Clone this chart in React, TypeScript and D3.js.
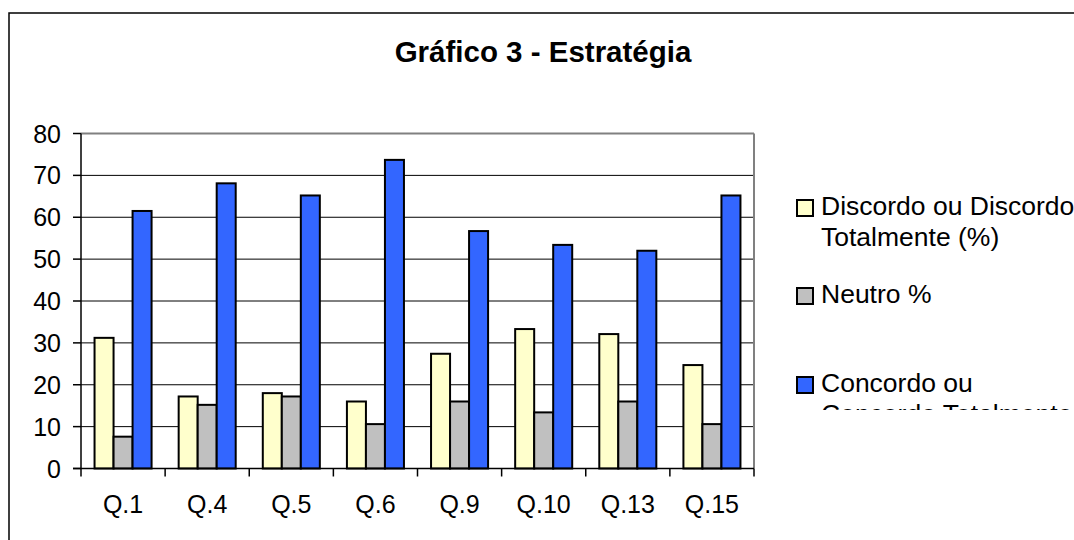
import React from "react";
import * as d3 from "d3";

const categories = ["Q.1", "Q.4", "Q.5", "Q.6", "Q.9", "Q.10", "Q.13", "Q.15"];
const discordo = [31.2, 17.2, 18.0, 16.0, 27.4, 33.3, 32.1, 24.7];
const neutro = [7.6, 15.2, 17.2, 10.6, 16.0, 13.4, 16.0, 10.6];
const concordo = [61.5, 68.1, 65.2, 73.7, 56.7, 53.4, 52.0, 65.2];
const yTicks = [0, 10, 20, 30, 40, 50, 60, 70, 80];
const seriesNames = ["Discordo ou Discordo Totalmente (%)", "Neutro %", "Concordo ou Concordo Totalmente (%)"];
const legendLines = [
  ["Discordo ou Discordo", "Totalmente (%)"],
  ["Neutro %"],
  ["Concordo ou", "Concordo Totalmente (%)"],
];
const seriesColors = ["#FFFFCC", "#C0C0C0", "#3366FF"];
const title = "Gráfico 3 - Estratégia";

const W = 1074;
const H = 540;
const plot = { left: 81, right: 754, top: 133.5, bottom: 468.5 };
const FONT = "'Liberation Sans', Arial, sans-serif";

export default function App() {
  const series = [discordo, neutro, concordo];
  const x0 = d3
    .scaleBand<string>()
    .domain(categories)
    .range([plot.left, plot.right])
    .paddingInner(0.322)
    .paddingOuter(0.161);
  const x1 = d3
    .scaleBand<number>()
    .domain([0, 1, 2])
    .range([0, x0.bandwidth()]);
  const y = d3.scaleLinear().domain([0, 80]).range([plot.bottom, plot.top]);
  const step = (plot.right - plot.left) / categories.length;
  const boundaries = d3.range(categories.length + 1).map((i) => plot.left + i * step);

  const legendY = [215, 303, 392];

  return (
    <svg
      width={W}
      height={H}
      style={{ position: "absolute", left: 0, top: 0, background: "#fff" }}
      fontFamily={FONT}
    >
      <defs>
        <clipPath id="legclip">
          <rect x={780} y={180} width={300} height={230} />
        </clipPath>
      </defs>
      <rect x={0} y={0} width={W} height={H} fill="#fff" />
      {/* outer frame */}
      <rect x={9} y={13} width={W + 20} height={H + 20} fill="none" stroke="#000" strokeWidth={1.5} />

      <text x={543} y={62} textAnchor="middle" fontSize={29.5} fontWeight="bold" fill="#000">
        {title}
      </text>

      {/* gridlines */}
      {yTicks.slice(1).map((t) => (
        <line
          key={"g" + t}
          x1={plot.left}
          x2={plot.right}
          y1={y(t)}
          y2={y(t)}
          stroke={t === 80 ? "#808080" : "#000"}
          strokeWidth={t === 80 ? 2 : 1}
        />
      ))}
      {/* right border */}
      <line x1={plot.right} x2={plot.right} y1={plot.top} y2={plot.bottom} stroke="#808080" strokeWidth={2} />

      {/* bars */}
      {categories.map((c, i) => (
        <g key={c} transform={`translate(${x0(c)},0)`}>
          {series.map((s, j) => (
            <rect
              key={j}
              x={x1(j)!}
              y={y(s[i])}
              width={x1.bandwidth()}
              height={y(0) - y(s[i])}
              fill={seriesColors[j]}
              stroke="#000"
              strokeWidth={2}
            >
              <title>{`${seriesNames[j]} ${c}: ${s[i]}`}</title>
            </rect>
          ))}
        </g>
      ))}

      {/* axes */}
      <line x1={plot.left} x2={plot.left} y1={plot.top} y2={plot.bottom} stroke="#000" strokeWidth={1.5} />
      <line x1={plot.left - 8} x2={plot.right} y1={plot.bottom} y2={plot.bottom} stroke="#000" strokeWidth={1.5} />
      {yTicks.map((t) => (
        <g key={"yt" + t}>
          <line x1={plot.left - 8} x2={plot.left} y1={y(t)} y2={y(t)} stroke="#000" strokeWidth={1.5} />
          <text x={61} y={y(t)} dy="0.36em" textAnchor="end" fontSize={25} fill="#000">
            {t}
          </text>
        </g>
      ))}
      {boundaries.map((bx, i) => (
        <line key={"xt" + i} x1={bx} x2={bx} y1={plot.bottom} y2={plot.bottom + 8} stroke="#000" strokeWidth={1.5} />
      ))}
      {categories.map((c) => (
        <text key={"xl" + c} x={x0(c)! + x0.bandwidth() / 2} y={513} textAnchor="middle" fontSize={25} fill="#000">
          {c}
        </text>
      ))}

      {/* legend */}
      <g clipPath="url(#legclip)">
        {legendLines.map((lines, j) => (
          <g key={"lg" + j}>
            <rect
              x={797}
              y={legendY[j] - 15}
              width={16}
              height={16}
              fill={seriesColors[j]}
              stroke="#000"
              strokeWidth={2}
            />
            {lines.map((ln, k) => (
              <text key={k} x={821} y={legendY[j] + k * 31} fontSize={26.5} fill="#000">
                {ln}
              </text>
            ))}
          </g>
        ))}
      </g>
    </svg>
  );
}
